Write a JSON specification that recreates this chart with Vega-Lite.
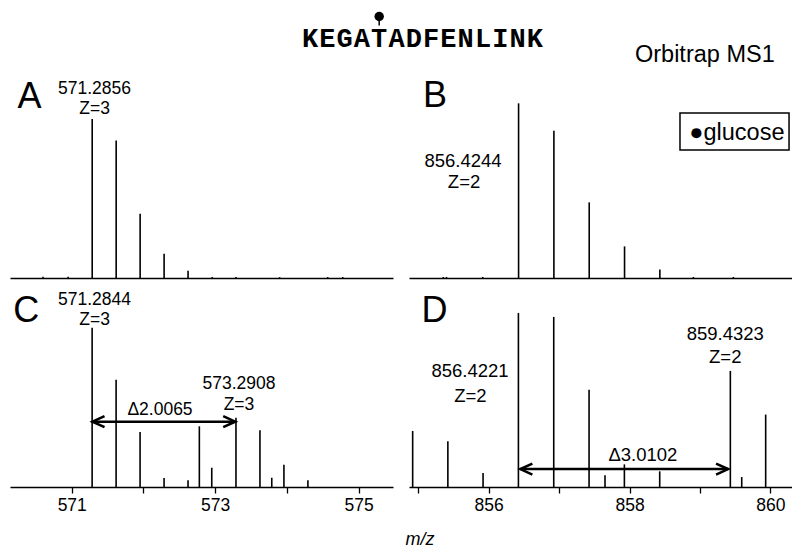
{
  "$schema": "https://vega.github.io/schema/vega-lite/v6.json",
  "padding": {"left": 10, "top": 11, "right": 0, "bottom": 0},
  "background": "white",
  "config": {
    "view": {"stroke": null},
    "font": "Liberation Sans",
    "text": {"color": "black", "font": "Liberation Sans"},
    "axis": {
      "grid": false, "domainColor": "black", "domainWidth": 1.3,
      "tickColor": "black", "tickWidth": 1.3, "tickSize": 6,
      "labelFont": "Liberation Sans", "labelFontSize": 17.5, "labelColor": "black",
      "labelPadding": 3, "labelFlush": false, "labelOverlap": false
    }
  },
  "datasets": {
    "peaks": [
      {"panel": "A", "mz": 571.2856, "y": 100},
      {"panel": "A", "mz": 571.6199, "y": 86.5},
      {"panel": "A", "mz": 571.9541, "y": 40.4},
      {"panel": "A", "mz": 572.2884, "y": 15.3},
      {"panel": "A", "mz": 572.6226, "y": 4.6},
      {"panel": "A", "mz": 570.60, "y": 0.8},
      {"panel": "A", "mz": 570.95, "y": 0.8},
      {"panel": "A", "mz": 572.96, "y": 0.6},
      {"panel": "A", "mz": 573.29, "y": 0.6},
      {"panel": "A", "mz": 573.90, "y": 0.5},
      {"panel": "A", "mz": 574.57, "y": 0.6},
      {"panel": "A", "mz": 574.78, "y": 0.6},
      {"panel": "B", "mz": 856.4244, "y": 100},
      {"panel": "B", "mz": 856.9261, "y": 84.3},
      {"panel": "B", "mz": 857.4278, "y": 43.3},
      {"panel": "B", "mz": 857.9295, "y": 18.1},
      {"panel": "B", "mz": 858.4312, "y": 4.8},
      {"panel": "B", "mz": 855.355, "y": 0.6},
      {"panel": "B", "mz": 855.40, "y": 0.6},
      {"panel": "B", "mz": 855.915, "y": 0.6},
      {"panel": "B", "mz": 858.907, "y": 0.6},
      {"panel": "B", "mz": 859.475, "y": 0.6},
      {"panel": "C", "mz": 571.2844, "y": 100},
      {"panel": "C", "mz": 571.6189, "y": 67.4},
      {"panel": "C", "mz": 571.9533, "y": 34.5},
      {"panel": "C", "mz": 572.2878, "y": 5.6},
      {"panel": "C", "mz": 572.6222, "y": 4.2},
      {"panel": "C", "mz": 572.78, "y": 38.1},
      {"panel": "C", "mz": 572.953, "y": 12.1},
      {"panel": "C", "mz": 573.2908, "y": 43.5},
      {"panel": "C", "mz": 573.6253, "y": 35.6},
      {"panel": "C", "mz": 573.79, "y": 5.8},
      {"panel": "C", "mz": 573.9597, "y": 14.0},
      {"panel": "C", "mz": 574.2942, "y": 4.2},
      {"panel": "D", "mz": 854.92, "y": 32.2},
      {"panel": "D", "mz": 855.42, "y": 26.3},
      {"panel": "D", "mz": 855.92, "y": 8.0},
      {"panel": "D", "mz": 856.4221, "y": 100},
      {"panel": "D", "mz": 856.9238, "y": 97.7},
      {"panel": "D", "mz": 857.4255, "y": 55.9},
      {"panel": "D", "mz": 857.652, "y": 6.7},
      {"panel": "D", "mz": 857.9272, "y": 13.0},
      {"panel": "D", "mz": 858.4289, "y": 9.0},
      {"panel": "D", "mz": 859.4323, "y": 66.7},
      {"panel": "D", "mz": 859.594, "y": 5.7},
      {"panel": "D", "mz": 859.934, "y": 41.6}
    ],
    "labels": [
      {"panel": "A", "mz": 571.317, "y": 115.5, "text": "571.2856"},
      {"panel": "A", "mz": 571.32, "y": 103.1, "text": "Z=3"},
      {"panel": "B", "mz": 855.635, "y": 63.7, "text": "856.4244"},
      {"panel": "B", "mz": 855.65, "y": 51.3, "text": "Z=2"},
      {"panel": "C", "mz": 571.317, "y": 114.3, "text": "571.2844"},
      {"panel": "C", "mz": 571.32, "y": 101.7, "text": "Z=3"},
      {"panel": "C", "mz": 573.333, "y": 61.3, "text": "573.2908"},
      {"panel": "C", "mz": 573.333, "y": 48.3, "text": "Z=3"},
      {"panel": "C", "mz": 572.231, "y": 45.2, "text": "Δ2.0065"},
      {"panel": "D", "mz": 855.735, "y": 63.0, "text": "856.4221"},
      {"panel": "D", "mz": 855.74, "y": 49.0, "text": "Z=2"},
      {"panel": "D", "mz": 859.36, "y": 84.5, "text": "859.4323"},
      {"panel": "D", "mz": 859.36, "y": 71.1, "text": "Z=2"},
      {"panel": "D", "mz": 858.19, "y": 15.1, "text": "Δ3.0102"}
    ],
    "letters": [
      {"panel": "A", "mz": 570.41, "y": 106.7, "text": "A"},
      {"panel": "B", "mz": 855.237, "y": 98.1, "text": "B"},
      {"panel": "C", "mz": 570.367, "y": 103.4, "text": "C"},
      {"panel": "D", "mz": 855.23, "y": 95.0, "text": "D"}
    ],
    "arrows": [
      {"panel": "C", "mz": 571.29, "mz2": 573.28, "y": 41.0},
      {"panel": "D", "mz": 856.45, "mz2": 859.40, "y": 10.3}
    ],
    "notes": [
      {"mz": 859.07, "y": 123.9, "text": "Orbitrap MS1"},
      {"mz": 859.525, "y": 79.0, "text": "●glucose"}
    ],
    "boxes": [
      {"mz": 858.717, "mz2": 860.266, "y": 73.3, "y2": 94.4}
    ],
    "residues": [
      {"pos": 1, "aa": "K", "glyco": false},
      {"pos": 2, "aa": "E", "glyco": false},
      {"pos": 3, "aa": "G", "glyco": false},
      {"pos": 4, "aa": "A", "glyco": false},
      {"pos": 5, "aa": "T", "glyco": true},
      {"pos": 6, "aa": "A", "glyco": false},
      {"pos": 7, "aa": "D", "glyco": false},
      {"pos": 8, "aa": "F", "glyco": false},
      {"pos": 9, "aa": "E", "glyco": false},
      {"pos": 10, "aa": "N", "glyco": false},
      {"pos": 11, "aa": "L", "glyco": false},
      {"pos": 12, "aa": "I", "glyco": false},
      {"pos": 13, "aa": "N", "glyco": false},
      {"pos": 14, "aa": "K", "glyco": false}
    ]
  },
  "columns": 2,
  "spacing": {"row": 9, "column": 16},
  "bounds": "flush",
  "concat": [
    {
      "width": 383, "height": 200,
      "encoding": {
        "x": {"field": "mz", "type": "quantitative", "scale": {"domain": [570.139, 575.481], "nice": false, "zero": false}, "axis": {"ticks": false, "labels": false, "title": null}},
        "y": {"field": "y", "type": "quantitative", "scale": {"domain": [0, 125.8], "nice": false, "zero": false}, "axis": null}
      },
      "layer": [
        {"data": {"name": "peaks"}, "transform": [{"filter": "datum.panel == 'A'"}],
         "mark": {"type": "rule", "color": "black", "strokeWidth": 1.6},
         "encoding": {"y2": {"datum": 0}}},
        {"data": {"name": "labels"}, "transform": [{"filter": "datum.panel == 'A'"}],
         "mark": {"type": "text", "fontSize": 17.5, "align": "center", "baseline": "alphabetic"},
         "encoding": {"text": {"field": "text"}}},
        {"data": {"name": "letters"}, "transform": [{"filter": "datum.panel == 'A'"}],
         "mark": {"type": "text", "fontSize": 36, "align": "center", "baseline": "alphabetic"},
         "encoding": {"text": {"field": "text"}}}
      ]
    },
    {
      "width": 383, "height": 200,
      "resolve": {"scale": {"x": "independent"}},
      "layer": [
        {
          "encoding": {
            "x": {"field": "mz", "type": "quantitative", "scale": {"domain": [854.868, 860.308], "nice": false, "zero": false}, "axis": {"ticks": false, "labels": false, "title": null}},
            "y": {"field": "y", "type": "quantitative", "scale": {"domain": [0, 114.5], "nice": false, "zero": false}, "axis": null}
          },
          "layer": [
            {"data": {"name": "peaks"}, "transform": [{"filter": "datum.panel == 'B'"}],
             "mark": {"type": "rule", "color": "black", "strokeWidth": 1.6},
             "encoding": {"y2": {"datum": 0}}},
            {"data": {"name": "labels"}, "transform": [{"filter": "datum.panel == 'B'"}],
             "mark": {"type": "text", "fontSize": 18.5, "align": "center", "baseline": "alphabetic"},
             "encoding": {"text": {"field": "text"}}},
            {"data": {"name": "letters"}, "transform": [{"filter": "datum.panel == 'B'"}],
             "mark": {"type": "text", "fontSize": 36, "align": "center", "baseline": "alphabetic"},
             "encoding": {"text": {"field": "text"}}},
            {"data": {"name": "notes"},
             "mark": {"type": "text", "fontSize": 23.5, "align": "center", "baseline": "alphabetic"},
             "encoding": {"text": {"field": "text"}}},
            {"data": {"name": "boxes"},
             "mark": {"type": "rect", "fillOpacity": 0, "stroke": "black", "strokeWidth": 1.5},
             "encoding": {"x2": {"field": "mz2"}, "y2": {"field": "y2"}}}
          ]
        },
        {
          "data": {"name": "residues"},
          "encoding": {
            "x": {"field": "pos", "type": "quantitative", "scale": {"domain": [6.723, 28.861], "nice": false, "zero": false}, "axis": null}
          },
          "layer": [
            {"mark": {"type": "text", "font": "Liberation Mono", "fontWeight": "bold", "fontSize": 27, "align": "center", "baseline": "alphabetic", "color": "black"},
             "encoding": {"text": {"field": "aa"}, "y": {"datum": 132.1, "type": "quantitative"}}},
            {"transform": [{"filter": "datum.glyco"}],
             "mark": {"type": "rule", "color": "black", "strokeWidth": 1.5},
             "encoding": {"y": {"datum": 149.7, "type": "quantitative"}, "y2": {"datum": 144.5}}},
            {"transform": [{"filter": "datum.glyco"}],
             "mark": {"type": "point", "filled": true, "color": "black", "opacity": 1, "size": 90},
             "encoding": {"y": {"datum": 149.7, "type": "quantitative"}}}
          ]
        }
      ]
    },
    {
      "width": 383, "height": 200,
      "encoding": {
        "x": {"field": "mz", "type": "quantitative", "scale": {"domain": [570.139, 575.481], "nice": false, "zero": false},
              "axis": {"title": null, "values": [571, 572, 573, 574, 575], "labelExpr": "datum.value % 2 == 1 ? datum.label : ''"}},
        "y": {"field": "y", "type": "quantitative", "scale": {"domain": [0, 125.55], "nice": false, "zero": false}, "axis": null}
      },
      "layer": [
        {"data": {"name": "peaks"}, "transform": [{"filter": "datum.panel == 'C'"}],
         "mark": {"type": "rule", "color": "black", "strokeWidth": 1.6},
         "encoding": {"y2": {"datum": 0}}},
        {"data": {"name": "labels"}, "transform": [{"filter": "datum.panel == 'C'"}],
         "mark": {"type": "text", "fontSize": 17.5, "align": "center", "baseline": "alphabetic"},
         "encoding": {"text": {"field": "text"}}},
        {"data": {"name": "letters"}, "transform": [{"filter": "datum.panel == 'C'"}],
         "mark": {"type": "text", "fontSize": 36, "align": "center", "baseline": "alphabetic"},
         "encoding": {"text": {"field": "text"}}},
        {"data": {"name": "arrows"}, "transform": [{"filter": "datum.panel == 'C'"}],
         "mark": {"type": "rule", "color": "black", "strokeWidth": 2.6},
         "encoding": {"x2": {"field": "mz2"}}},
        {"data": {"name": "arrows"}, "transform": [{"filter": "datum.panel == 'C'"}],
         "mark": {"type": "point", "shape": "M 1.2 -0.55 L 0 0 L 1.2 0.55", "filled": false, "stroke": "black", "strokeWidth": 2.6, "strokeJoin": "miter", "opacity": 1, "size": 400}},
        {"data": {"name": "arrows"}, "transform": [{"filter": "datum.panel == 'C'"}],
         "mark": {"type": "point", "shape": "M -1.2 -0.55 L 0 0 L -1.2 0.55", "filled": false, "stroke": "black", "strokeWidth": 2.6, "strokeJoin": "miter", "opacity": 1, "size": 400},
         "encoding": {"x": {"field": "mz2", "type": "quantitative"}}}
      ]
    },
    {
      "width": 383, "height": 200,
      "encoding": {
        "x": {"field": "mz", "type": "quantitative", "scale": {"domain": [854.868, 860.308], "nice": false, "zero": false},
              "axis": {"title": "m/z", "values": [855, 856, 857, 858, 859, 860], "labelExpr": "datum.value % 2 == 0 ? datum.label : ''",
                       "titleFontStyle": "italic", "titleFontWeight": "normal", "titleFontSize": 18, "titleFont": "Liberation Sans", "titleColor": "black",
                       "titleAnchor": "start", "titleAlign": "left", "titleX": -4, "titlePadding": 17}},
        "y": {"field": "y", "type": "quantitative", "scale": {"domain": [0, 114.9], "nice": false, "zero": false}, "axis": null}
      },
      "layer": [
        {"data": {"name": "peaks"}, "transform": [{"filter": "datum.panel == 'D'"}],
         "mark": {"type": "rule", "color": "black", "strokeWidth": 1.6},
         "encoding": {"y2": {"datum": 0}}},
        {"data": {"name": "labels"}, "transform": [{"filter": "datum.panel == 'D'"}],
         "mark": {"type": "text", "fontSize": 18.5, "align": "center", "baseline": "alphabetic"},
         "encoding": {"text": {"field": "text"}}},
        {"data": {"name": "letters"}, "transform": [{"filter": "datum.panel == 'D'"}],
         "mark": {"type": "text", "fontSize": 36, "align": "center", "baseline": "alphabetic"},
         "encoding": {"text": {"field": "text"}}},
        {"data": {"name": "arrows"}, "transform": [{"filter": "datum.panel == 'D'"}],
         "mark": {"type": "rule", "color": "black", "strokeWidth": 2.6},
         "encoding": {"x2": {"field": "mz2"}}},
        {"data": {"name": "arrows"}, "transform": [{"filter": "datum.panel == 'D'"}],
         "mark": {"type": "point", "shape": "M 1.2 -0.55 L 0 0 L 1.2 0.55", "filled": false, "stroke": "black", "strokeWidth": 2.6, "strokeJoin": "miter", "opacity": 1, "size": 400}},
        {"data": {"name": "arrows"}, "transform": [{"filter": "datum.panel == 'D'"}],
         "mark": {"type": "point", "shape": "M -1.2 -0.55 L 0 0 L -1.2 0.55", "filled": false, "stroke": "black", "strokeWidth": 2.6, "strokeJoin": "miter", "opacity": 1, "size": 400},
         "encoding": {"x": {"field": "mz2", "type": "quantitative"}}}
      ]
    }
  ]
}
